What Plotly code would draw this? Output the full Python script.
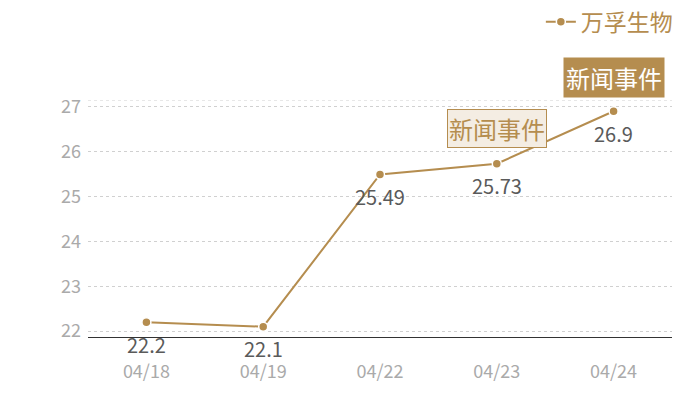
import plotly.graph_objects as go

dates = ["04/18", "04/19", "04/22", "04/23", "04/24"]
prices = [22.2, 22.1, 25.49, 25.73, 26.9]
series_name = "万孚生物"
event_text = "新闻事件"

gold = "#b58d4f"
font_family = "Noto Sans CJK SC, Noto Sans, sans-serif"

fig = go.Figure()
fig.add_trace(go.Scatter(
    x=dates, y=prices, name=series_name,
    mode="lines+markers",
    line=dict(color=gold, width=2),
    marker=dict(size=9, color=gold, line=dict(color="white", width=1.5)),
    cliponaxis=False,
))

# value labels under each point
for d, v in zip(dates, prices):
    fig.add_annotation(
        x=d, y=v, text=str(v), showarrow=False, yshift=-22,
        font=dict(size=20, color="#5a5a5a"),
    )

# news event markers
fig.add_annotation(
    x=dates[3], y=26.52, text=event_text, showarrow=False,
    font=dict(size=24, color=gold, family=font_family),
    bgcolor="#f4ede3", bordercolor=gold, borderwidth=1, borderpad=1,
)
fig.add_annotation(
    x=dates[4], xref="x", y=1.093, yref="paper", yanchor="middle",
    text=event_text, showarrow=False,
    font=dict(size=24, color="white", family=font_family),
    bgcolor=gold, borderpad=2,
)

# page body adds 8px, so the figure is drawn 8px smaller
fig.update_layout(
    width=692, height=392,
    margin=dict(l=80, r=28, t=92, b=63, autoexpand=False),
    paper_bgcolor="white", plot_bgcolor="white",
    font=dict(family=font_family),
    showlegend=True,
    legend=dict(
        xref="container", yref="container",
        x=0.968, y=0.965, xanchor="right", yanchor="middle",
        font=dict(size=23, color=gold), itemwidth=30,
    ),
    xaxis=dict(
        type="category", range=[-0.5, 4.5],
        showgrid=False, showline=True, linecolor="#333", linewidth=1,
        ticks="", ticklabelstandoff=18, tickfont=dict(size=18, color="#aaaaaa"),
    ),
    yaxis=dict(
        range=[21.87, 27.15], dtick=1, tick0=22,
        showgrid=True, gridcolor="#d0d0d0", griddash="dot",
        zeroline=False, showline=False, ticks="", ticklabelstandoff=6,
        tickfont=dict(size=18, color="#aaaaaa"),
    ),
)
fig.add_hline(y=27.15, line=dict(color="#d0d0d0", width=1, dash="dot"))

fig.write_html("out.html")
